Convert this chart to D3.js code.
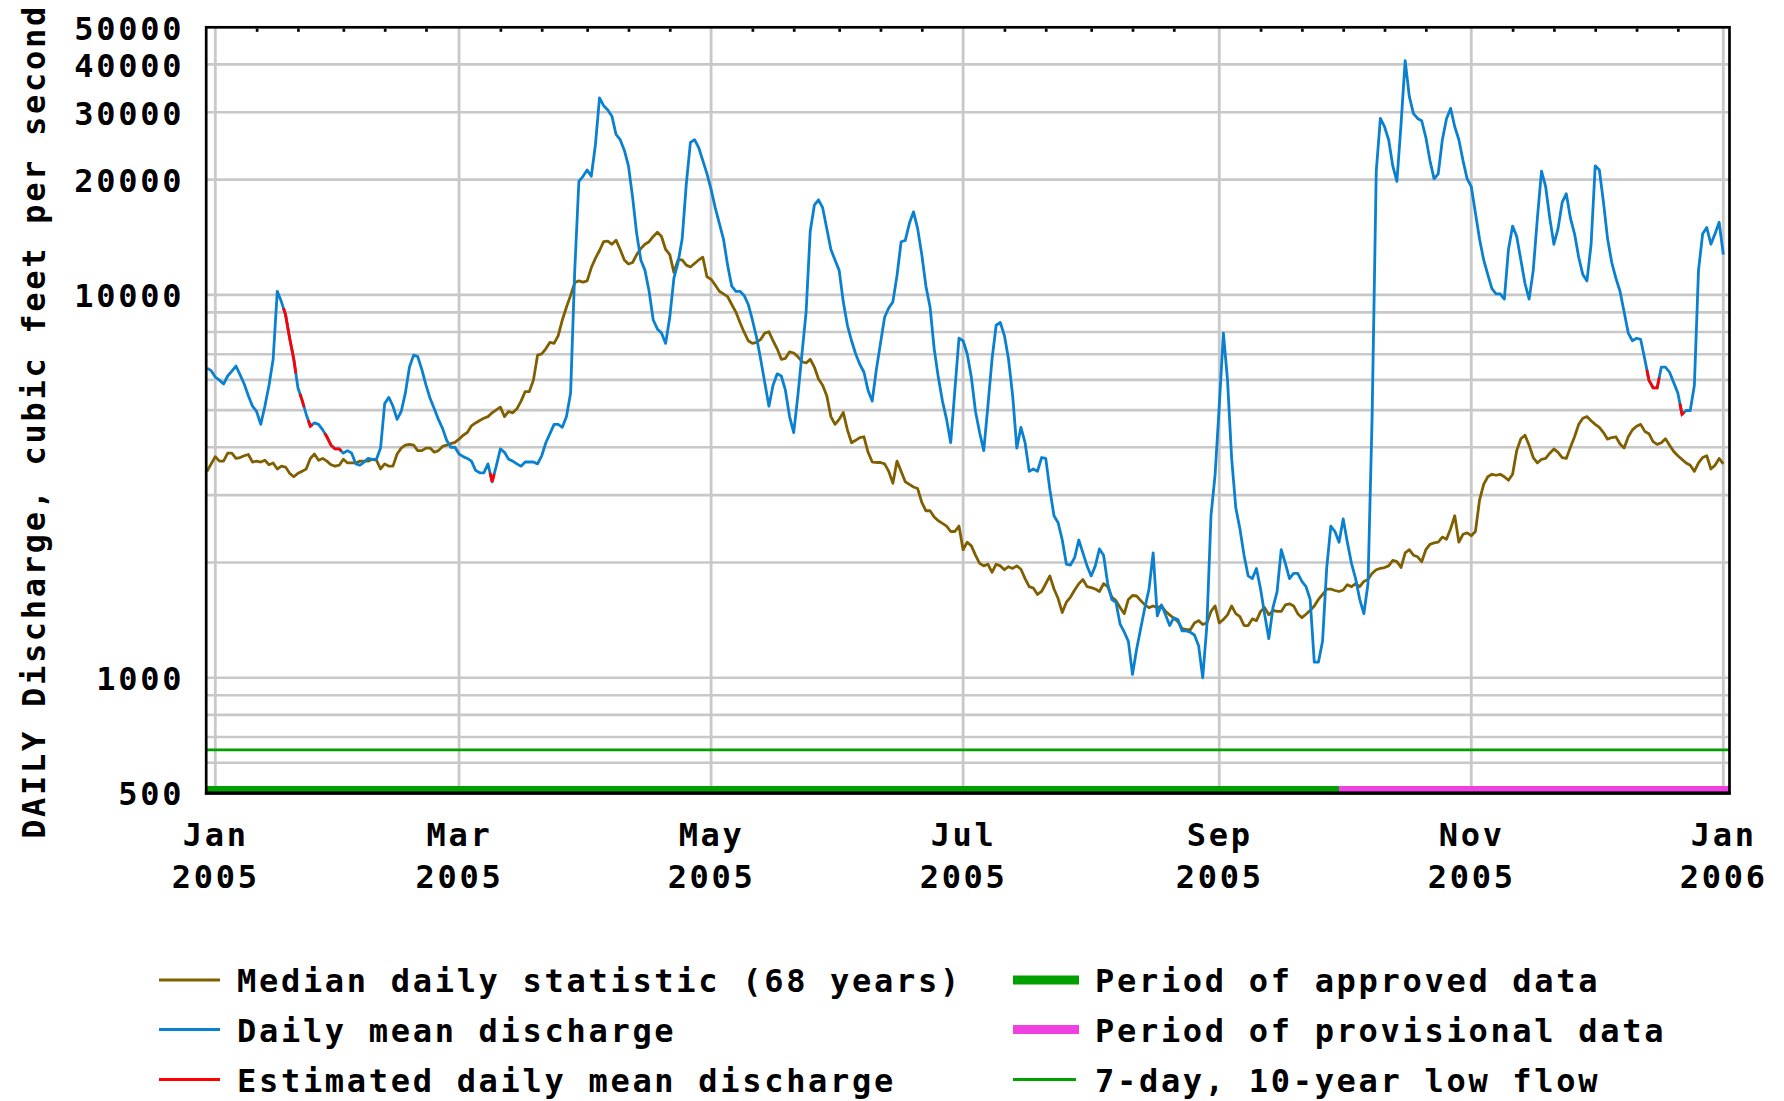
<!DOCTYPE html>
<html><head><meta charset="utf-8">
<script src="https://cdn.jsdelivr.net/npm/d3@7"></script>
<style>
html,body{margin:0;padding:0;background:#fff;}
svg{display:block;}
text{font-family:"DejaVu Sans Mono",monospace;font-weight:bold;font-size:32px;letter-spacing:2.7px;fill:#000;}
</style></head><body>
<svg id="chart" width="1784" height="1101"></svg>
<script>
// ---------------- DATA ----------------
const startDate = "2004-12-30";   // first daily value
// Daily mean discharge, cfs (Dec 30 2004 .. Jan 1 2006)
const dailyMean = [
6440,6340,6100,5990,5850,6140,6320,6520,6180,5850,
5450,5120,4960,4590,5120,5810,6790,10220,9590,8880,
7705,6790,5720,5310,4880,4540,4630,4590,4440,4260,
4050,3960,3960,3860,3920,3860,3620,3590,3660,3740,
3720,3720,3980,5200,5400,5120,4730,4960,5540,6480,
6960,6900,6380,5810,5360,5040,4730,4480,4170,4000,
4000,3840,3780,3740,3680,3480,3430,3430,3620,3250,
3570,3960,3880,3720,3680,3620,3570,3660,3660,3660,
3620,3800,4110,4340,4590,4590,4510,4810,5540,11590,
19780,20410,21200,20410,24640,32690,31200,30400,29300,26240,
25430,23880,21730,18000,14440,12340,11590,10220,8600,8150,
7950,7470,8740,11060,12150,13990,19480,25030,25430,24260,
22430,20730,18870,16900,15380,13990,11960,10540,10220,10220,
9970,9440,8600,7750,6790,5900,5120,5810,6220,6140,
5630,4810,4370,5450,7010,9020,14670,17170,17720,16900,
14900,13140,12340,11590,9590,8330,7590,7010,6590,6280,
5630,5280,6380,7470,8740,9240,9590,11230,13770,13880,
15380,16480,14900,12740,10540,9300,7230,6090,5280,4730,
4110,5630,7705,7590,7010,6090,4960,4370,3920,5120,
6790,8330,8470,7830,6790,5450,3980,4510,4110,3460,
3510,3460,3760,3740,3100,2650,2540,2290,1980,1970,
2060,2290,2120,1960,1845,1960,2170,2090,1760,1600,
1575,1380,1317,1245,1020,1187,1347,1525,1705,2120,
1450,1550,1460,1369,1435,1420,1325,1325,1315,1293,
1213,1000,1369,2650,3400,5120,7950,5990,3740,2780,
2450,2090,1845,1815,1930,1705,1460,1265,1525,1678,
2160,1990,1815,1874,1874,1785,1730,1602,1098,1098,
1245,1930,2490,2410,2260,2600,2260,1990,1815,1602,
1470,1760,4810,21060,28900,27500,25430,21730,19780,27940,
40900,33000,29750,28900,28500,25800,22430,20100,20700,25430,
28830,30700,27500,25430,22430,20100,19170,16380,13990,12340,
11300,10380,10060,10060,9750,13140,15130,14210,12340,10710,
9750,11590,15870,21060,19170,15870,13560,14900,17440,18380,
15870,14440,12540,11300,10880,13560,21730,21200,17440,13990,
12150,11060,10220,9020,7950,7590,7705,7650,6790,5990,
5720,5720,6480,6480,6280,5900,5540,4880,4990,4990,
5810,11590,14440,14990,13560,14440,15480,12740
];
// Median daily statistic (68 years), cfs
const medianDaily = [
3460,3620,3780,3680,3680,3860,3860,3740,3760,3800,
3830,3660,3680,3660,3700,3600,3640,3510,3570,3550,
3420,3350,3420,3460,3510,3740,3840,3700,3740,3680,
3600,3570,3590,3720,3640,3640,3640,3680,3680,3680,
3720,3700,3510,3620,3570,3570,3840,3980,4050,4070,
4050,3920,3920,3980,3980,3880,3920,4020,4050,4090,
4120,4200,4300,4370,4550,4630,4700,4760,4810,4920,
5010,5090,4810,4960,4920,5040,5280,5590,5590,5990,
6960,7010,7230,7520,7470,7830,8600,9300,9970,10770,
10880,10800,10880,11770,12460,13060,13770,13820,13560,13900,
13140,12340,12040,12150,12740,13220,13560,13770,14210,14580,
14210,13140,12740,11440,12340,12340,11960,11830,12080,12340,
12540,11150,10990,10610,10220,10060,9900,9440,9020,8470,
7990,7590,7470,7520,7650,7950,8010,7590,7230,6790,
6830,7100,7050,6900,6690,6640,6790,6480,6030,5810,
5450,4810,4590,4730,4930,4440,4110,4170,4240,4260,
3880,3660,3650,3650,3620,3460,3220,3680,3460,3250,
3200,3150,3120,2870,2730,2730,2630,2570,2530,2490,
2410,2410,2490,2160,2260,2210,2090,1990,1960,1980,
1885,1980,1960,1915,1950,1930,1960,1920,1815,1730,
1715,1650,1680,1760,1845,1705,1610,1480,1575,1625,
1695,1760,1805,1730,1720,1705,1680,1760,1730,1625,
1590,1525,1470,1602,1640,1635,1590,1550,1525,1540,
1525,1540,1490,1460,1430,1400,1345,1335,1335,1390,
1410,1378,1390,1490,1540,1390,1420,1460,1540,1470,
1445,1369,1369,1425,1410,1490,1525,1460,1500,1490,
1490,1550,1560,1540,1470,1435,1465,1500,1540,1602,
1650,1705,1705,1690,1680,1695,1750,1730,1760,1730,
1785,1805,1874,1915,1930,1940,1960,2025,2010,1940,
2120,2160,2090,2070,2010,2160,2230,2250,2260,2330,
2300,2450,2650,2260,2370,2390,2350,2410,2910,3200,
3350,3400,3380,3400,3350,3280,3400,3920,4210,4300,
4050,3760,3640,3720,3740,3860,3960,3880,3760,3740,
4000,4260,4590,4760,4810,4690,4590,4510,4370,4200,
4240,4260,4080,3980,4260,4440,4540,4590,4400,4340,
4140,4070,4110,4210,4050,3900,3800,3720,3640,3590,
3460,3640,3760,3800,3510,3590,3740,3620
];
// Days whose daily mean is estimated
const estimatedDates = ["2005-01-18","2005-01-19","2005-01-20","2005-01-22","2005-01-24",
  "2005-01-28","2005-01-29","2005-01-30","2005-01-31","2005-03-09",
  "2005-12-14","2005-12-15","2005-12-16","2005-12-22"];
const approvedPeriod = ["2004-12-30","2005-09-30"];
const provisionalPeriod = ["2005-09-30","2006-01-02"];
const lowFlow7Q10 = 648;
const xDomain = ["2005-01-01","2006-01-01"];
const monthGridDates = ["2005-01-01","2005-03-01","2005-05-01","2005-07-01","2005-09-01","2005-11-01","2006-01-01"];
const yTickValues = [500,1000,10000,20000,30000,40000,50000];
const yTitle = "DAILY Discharge, cubic feet per second";
const legendLeft = ["Median daily statistic (68 years)","Daily mean discharge","Estimated daily mean discharge"];
const legendRight = ["Period of approved data","Period of provisional data","7-day, 10-year low flow"];

// ---------------- CHART ----------------
const C = {blue:"#0a80d0", brown:"#7f5f00", red:"#ff0000", green:"#00a000", magenta:"#f040e0", grid:"#c8c8c8"};
const P = {left:206.2, right:1729.5, top:27.3, bottom:793.2};
const LW = 2.8;
const svg = d3.select("#chart");
const parse = d3.utcParse("%Y-%m-%d");
const t0 = parse(startDate);

const x = d3.scaleUtc().domain(xDomain.map(parse)).range([215.3, 1723.3]);
const y = d3.scaleLog().domain([500, 50000]).range([793, 27.3]);

const rows = dailyMean.map((v,i)=>({date:d3.utcDay.offset(t0,i), v, m:medianDaily[i]}));

svg.append("defs").append("clipPath").attr("id","plotclip")
  .append("rect").attr("x",P.left).attr("y",P.top).attr("width",P.right-P.left).attr("height",P.bottom-P.top);

// grid
const gridValues = [];
for (const p of [100,1000,10000]) for (let k=1;k<=9;k++){const v=k*p; if (v>500 && v<50000) gridValues.push(v);}
const grid = svg.append("g");
grid.selectAll("line.h").data(gridValues).join("line")
  .attr("x1",P.left).attr("x2",P.right).attr("y1",d=>y(d)).attr("y2",d=>y(d))
  .attr("stroke",C.grid).attr("stroke-width",2.6);
grid.selectAll("line.v").data(monthGridDates.map(parse)).join("line")
  .attr("x1",d=>x(d)).attr("x2",d=>x(d)).attr("y1",P.top).attr("y2",P.bottom)
  .attr("stroke",C.grid).attr("stroke-width",2.8);

// 7Q10
svg.append("line").attr("x1",P.left).attr("x2",P.right).attr("y1",y(lowFlow7Q10)).attr("y2",y(lowFlow7Q10))
  .attr("stroke",C.green).attr("stroke-width",2.7);

const plot = svg.append("g").attr("clip-path","url(#plotclip)");
const lineM = d3.line().x(d=>x(d.date)).y(d=>y(d.m));
const lineV = d3.line().x(d=>x(d.date)).y(d=>y(d.v));
plot.append("path").datum(rows).attr("d",lineM).attr("fill","none").attr("stroke",C.brown).attr("stroke-width",LW).attr("stroke-linejoin","round");
plot.append("path").datum(rows).attr("d",lineV).attr("fill","none").attr("stroke",C.blue).attr("stroke-width",LW).attr("stroke-linejoin","round");

// estimated pieces (centred on each estimated day)
const estSet = new Set(estimatedDates);
const fmtD = d3.utcFormat("%Y-%m-%d");
rows.forEach((r,i)=>{
  if (!estSet.has(fmtD(r.date))) return;
  const pts = [];
  const px = d=>[x(d.date), y(d.v)];
  const c = px(r);
  if (i>0){const p = px(rows[i-1]); pts.push([(p[0]+c[0])/2,(p[1]+c[1])/2]);}
  pts.push(c);
  if (i<rows.length-1){const n = px(rows[i+1]); pts.push([(n[0]+c[0])/2,(n[1]+c[1])/2]);}
  plot.append("path").attr("d",d3.line()(pts)).attr("fill","none").attr("stroke",C.red).attr("stroke-width",LW);
});

// approval bar
const barY = 786, barH = 6;
svg.append("rect").attr("x",P.left).attr("y",barY).attr("height",barH)
  .attr("width",x(parse(approvedPeriod[1]))-P.left).attr("fill",C.green);
svg.append("rect").attr("x",x(parse(provisionalPeriod[0]))).attr("y",barY).attr("height",barH)
  .attr("width",P.right-x(parse(provisionalPeriod[0]))).attr("fill",C.magenta);

// frame
svg.append("rect").attr("x",P.left).attr("y",P.top).attr("width",P.right-P.left).attr("height",P.bottom-P.top)
  .attr("fill","none").attr("stroke","#000").attr("stroke-width",2.7);
svg.append("line").attr("x1",P.left-1.3).attr("x2",P.right+1.3).attr("y1",P.bottom).attr("y2",P.bottom)
  .attr("stroke","#000").attr("stroke-width",3.2);

// top minor ticks (1st, 11th, 21st)
const gridSet = new Set(monthGridDates);
const minorTicks = [];
for (let mo=0; mo<12; mo++) for (const dd of [1,11,21]) {
  const d = new Date(Date.UTC(2005,mo,dd));
  if (!gridSet.has(fmtD(d))) minorTicks.push(d);
}
svg.append("g").attr("transform",`translate(0,${P.top+1.3})`)
  .call(d3.axisTop(x).tickValues(minorTicks).tickSize(-3.2).tickFormat(""))
  .call(g=>g.select(".domain").remove())
  .call(g=>g.selectAll(".tick line").attr("stroke","#000").attr("stroke-width",2.7));

// y axis labels
svg.append("g").attr("transform",`translate(${P.left},0)`)
  .call(d3.axisLeft(y).tickValues(yTickValues).tickFormat(d3.format("d")).tickSize(0).tickPadding(22))
  .call(g=>g.select(".domain").remove())
  .call(g=>g.selectAll("text").attr("dy","0.37em"));

// x axis labels (two lines)
const fmtMon = d3.utcFormat("%b"), fmtYr = d3.utcFormat("%Y");
svg.append("g").attr("transform",`translate(0,${P.bottom})`)
  .call(d3.axisBottom(x).tickValues(monthGridDates.map(parse)).tickSize(0).tickFormat(""))
  .call(g=>g.select(".domain").remove())
  .call(g=>g.selectAll(".tick").each(function(d){
    const t = d3.select(this).select("text").attr("y",null).attr("dy",null);
    t.append("tspan").attr("x",0).attr("y",53).text(fmtMon(d));
    t.append("tspan").attr("x",0).attr("y",95).text(fmtYr(d));
  }));

// y title
svg.append("text").attr("transform","rotate(-90)").attr("x",-421.5).attr("y",45)
  .attr("text-anchor","middle").text(yTitle);

// legend
const rowY = [980, 1029.5, 1079.5];
const leftColors = [C.brown, C.blue, C.red];
const lg = svg.append("g");
legendLeft.forEach((lab,i)=>{
  lg.append("line").attr("x1",159).attr("x2",220).attr("y1",rowY[i]).attr("y2",rowY[i])
    .attr("stroke",leftColors[i]).attr("stroke-width",3);
  lg.append("text").attr("x",237).attr("y",rowY[i]+12).text(lab);
});
legendRight.forEach((lab,i)=>{
  if (i<2) lg.append("rect").attr("x",1013).attr("y",rowY[i]-4.5).attr("width",66).attr("height",9)
    .attr("fill", i===0?C.green:C.magenta);
  else lg.append("line").attr("x1",1013).attr("x2",1076).attr("y1",rowY[i]).attr("y2",rowY[i])
    .attr("stroke",C.green).attr("stroke-width",3);
  lg.append("text").attr("x",1095).attr("y",rowY[i]+12).text(lab);
});
</script>
</body></html>
